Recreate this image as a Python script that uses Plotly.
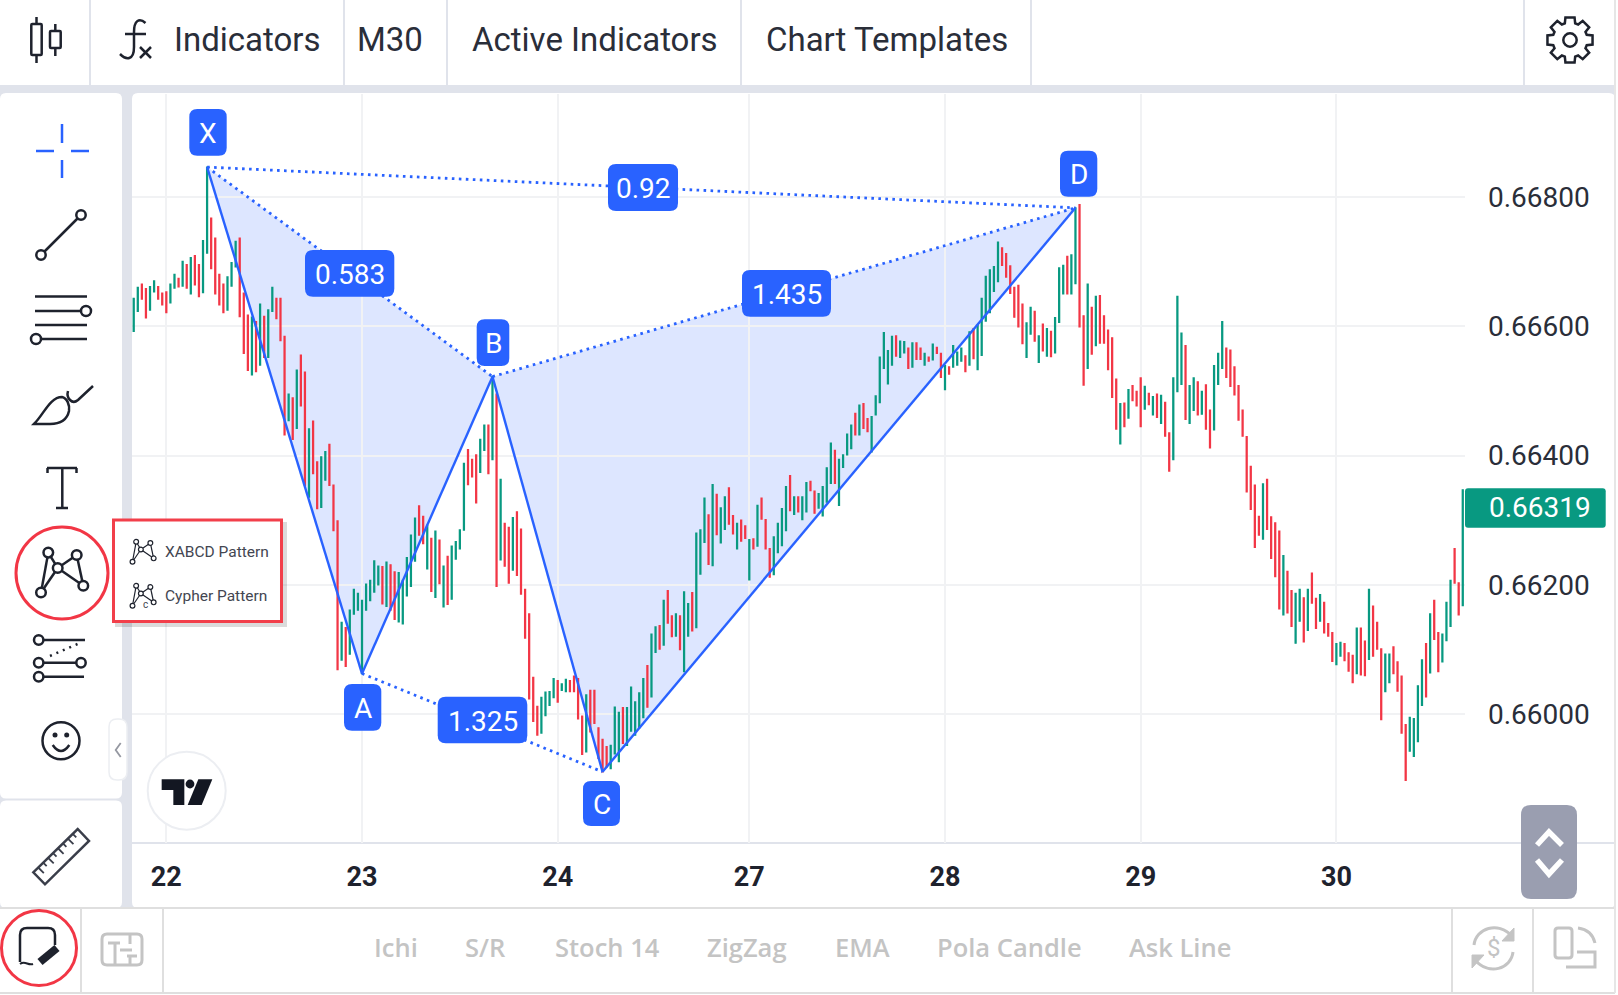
import math
import plotly.graph_objects as go

W, H = 1618, 995

# prices in 1e-5 units (M30)
bar_high = [
    66643, 66660, 66665, 66658, 66661, 66670, 66661, 66651, 66653, 66665, 66680, 66674, 66700, 66695, 66706, 66709,
    66695, 66732, 66846, 66767, 66736, 66680, 66665, 66676, 66698, 66731, 66736, 66651, 66617, 66614, 66607, 66634,
    66615, 66625, 66660, 66643, 66643, 66584, 66495, 66489, 66532, 66555, 66529, 66441, 66453, 66390, 66398, 66406,
    66417, 66354, 66299, 66142, 66134, 66161, 66193, 66187, 66176, 66201, 66207, 66237, 66229, 66228, 66235, 66231,
    66220, 66219, 66207, 66242, 66277, 66303, 66322, 66306, 66292, 66272, 66283, 66269, 66229, 66244, 66260, 66267,
    66285, 66388, 66409, 66394, 66401, 66425, 66447, 66447, 66522, 66495, 66363, 66295, 66289, 66304, 66313, 66286,
    66193, 66155, 66057, 66012, 66026, 66034, 66035, 66055, 66052, 66047, 66054, 66052, 66059, 66055, 65997, 66030,
    66037, 66037, 65979, 65961, 65950, 65952, 66011, 66003, 66010, 66010, 66042, 66019, 66033, 66055, 66075, 66124,
    66135, 66137, 66176, 66191, 66152, 66155, 66152, 66189, 66171, 66188, 66280, 66285, 66334, 66308, 66355, 66340,
    66319, 66336, 66350, 66307, 66295, 66300, 66291, 66270, 66271, 66323, 66334, 66301, 66256, 66274, 66295, 66318,
    66352, 66369, 66336, 66336, 66336, 66358, 66360, 66345, 66341, 66352, 66381, 66419, 66408, 66394, 66401, 66433,
    66447, 66465, 66478, 66480, 66457, 66460, 66492, 66552, 66590, 66562, 66584, 66585, 66577, 66576, 66566, 66574,
    66574, 66566, 66558, 66552, 66572, 66567, 66558, 66539, 66537, 66570, 66560, 66566, 66554, 66591, 66596, 66602,
    66643, 66677, 66687, 66692, 66730, 66721, 66712, 66693, 66660, 66663, 66634, 66605, 66629, 66623, 66585, 66603,
    66596, 66592, 66613, 66690, 66694, 66708, 66710, 66783, 66788, 66616, 66665, 66629, 66646, 66647, 66616, 66594,
    66582, 66518, 66480, 66481, 66502, 66508, 66499, 66520, 66507, 66496, 66491, 66495, 66493, 66482, 66435, 66520,
    66646, 66589, 66570, 66508, 66520, 66514, 66499, 66509, 66470, 66539, 66558, 66607, 66566, 66563, 66537, 66508,
    66470, 66429, 66383, 66354, 66306, 66356, 66363, 66305, 66296, 66283, 66245, 66221, 66191, 66187, 66193, 66180,
    66193, 66218, 66179, 66185, 66173, 66140, 66126, 66109, 66111, 66109, 66095, 66091, 66133, 66133, 66113, 66193,
    66167, 66142, 66101, 66093, 66093, 66104, 66081, 66059, 65984, 65995, 65993, 66044, 66084, 66109, 66155, 66176,
    66126, 66124, 66173, 66207, 66256, 66203, 66347,
]
bar_low = [
    66592, 66623, 66642, 66613, 66625, 66653, 66642, 66633, 66621, 66636, 66659, 66661, 66662, 66659, 66650, 66664,
    66646, 66652, 66713, 66689, 66650, 66633, 66621, 66625, 66662, 66692, 66615, 66558, 66532, 66525, 66530, 66540,
    66552, 66552, 66623, 66612, 66578, 66432, 66454, 66425, 66442, 66477, 66354, 66336, 66372, 66318, 66320, 66362,
    66354, 66284, 66069, 66084, 66074, 66093, 66155, 66161, 66063, 66161, 66176, 66189, 66200, 66171, 66167, 66161,
    66147, 66143, 66140, 66183, 66198, 66237, 66277, 66264, 66225, 66190, 66181, 66202, 66166, 66170, 66178, 66240,
    66256, 66285, 66355, 66367, 66327, 66374, 66408, 66372, 66394, 66198, 66239, 66229, 66203, 66223, 66215, 66186,
    66118, 66024, 65989, 65968, 65971, 65998, 66014, 66026, 66019, 66037, 66035, 66035, 66035, 65993, 65938, 65942,
    65973, 65986, 65932, 65911, 65919, 65916, 65939, 65927, 65955, 65952, 65974, 65968, 65979, 65995, 66011, 66027,
    66096, 66101, 66107, 66141, 66120, 66121, 66100, 66066, 66121, 66129, 66134, 66217, 66266, 66232, 66230, 66278,
    66265, 66286, 66294, 66279, 66256, 66268, 66272, 66208, 66256, 66260, 66302, 66256, 66212, 66216, 66250, 66261,
    66284, 66315, 66309, 66313, 66301, 66313, 66346, 66311, 66319, 66307, 66328, 66357, 66357, 66323, 66382, 66401,
    66411, 66432, 66432, 66442, 66437, 66406, 66463, 66482, 66535, 66511, 66540, 66554, 66552, 66559, 66535, 66537,
    66549, 66549, 66540, 66546, 66548, 66558, 66521, 66502, 66526, 66537, 66540, 66546, 66530, 66540, 66550, 66533,
    66555, 66608, 66621, 66654, 66669, 66694, 66676, 66651, 66614, 66599, 66573, 66552, 66588, 66577, 66544, 66562,
    66554, 66553, 66559, 66606, 66650, 66650, 66650, 66666, 66599, 66509, 66535, 66557, 66570, 66574, 66574, 66533,
    66490, 66441, 66418, 66445, 66458, 66485, 66477, 66445, 66472, 66479, 66463, 66459, 66450, 66430, 66376, 66394,
    66499, 66510, 66456, 66450, 66470, 66463, 66464, 66441, 66412, 66440, 66510, 66535, 66521, 66507, 66494, 66455,
    66430, 66344, 66317, 66258, 66277, 66271, 66286, 66241, 66213, 66163, 66154, 66157, 66136, 66110, 66144, 66112,
    66130, 66172, 66133, 66144, 66126, 66121, 66082, 66077, 66090, 66083, 66067, 66049, 66063, 66061, 66060, 66085,
    66090, 66101, 65992, 66035, 66049, 66063, 66036, 65971, 65898, 65943, 65935, 65958, 66014, 66027, 66064, 66116,
    66066, 66081, 66114, 66136, 66203, 66154, 66168,
]
# 1 = green bar, 0 = red bar
bar_up = [
    1, 1, 0, 0, 1, 1, 0, 0, 0, 1, 1, 0, 1, 0, 1, 0, 0, 1, 1, 0, 0, 0, 0, 1, 1, 1, 0, 0, 0, 1,
    0, 1, 0, 1, 1, 0, 0, 0, 1, 0, 1, 0, 0, 1, 0, 0, 1, 1, 0, 0, 0, 1, 0, 1, 1, 1, 1, 1, 1, 1,
    1, 0, 1, 0, 0, 1, 1, 1, 1, 1, 0, 0, 1, 0, 1, 0, 1, 0, 1, 1, 1, 1, 0, 0, 0, 1, 1, 0, 1, 0,
    1, 0, 0, 1, 0, 0, 0, 0, 0, 0, 1, 1, 1, 1, 0, 1, 1, 0, 0, 0, 0, 1, 0, 0, 0, 0, 0, 1, 1, 1,
    0, 1, 1, 1, 1, 1, 0, 1, 1, 0, 1, 0, 0, 1, 0, 1, 1, 0, 1, 1, 1, 0, 1, 0, 1, 1, 0, 0, 1, 0,
    0, 1, 0, 1, 0, 0, 0, 1, 1, 1, 1, 0, 1, 0, 1, 1, 0, 0, 1, 1, 1, 1, 0, 1, 1, 1, 1, 0, 1, 0,
    0, 1, 1, 1, 1, 1, 1, 0, 1, 1, 0, 1, 0, 0, 1, 0, 1, 0, 0, 1, 0, 1, 1, 1, 0, 1, 0, 1, 1, 1,
    1, 1, 1, 0, 0, 0, 0, 0, 0, 1, 1, 0, 1, 0, 1, 0, 1, 1, 1, 0, 1, 1, 0, 0, 1, 0, 1, 0, 0, 0,
    0, 0, 1, 0, 1, 0, 0, 0, 1, 0, 1, 0, 1, 0, 0, 1, 1, 1, 0, 1, 1, 0, 1, 0, 0, 1, 1, 1, 0, 0,
    0, 0, 0, 0, 0, 0, 0, 1, 0, 0, 0, 0, 1, 0, 0, 1, 1, 0, 1, 0, 0, 1, 0, 0, 0, 1, 1, 0, 0, 0,
    1, 0, 0, 1, 0, 0, 0, 1, 1, 0, 0, 0, 0, 1, 1, 1, 1, 0, 1, 0, 0, 1, 1, 1, 0, 0, 1,
]

day_bars = [8, 56, 104, 151, 199, 247, 295]
day_labels = ["22", "23", "24", "27", "28", "29", "30"]
price_ticks = [0.66, 0.662, 0.664, 0.666, 0.668]
last_price = 0.66319

# harmonic pattern pivots: X A B C D
pat_bar = [18, 56, 88, 115, 231]
pat_price = [0.66846, 0.66063, 0.66522, 0.65911, 0.66783]

top_tabs = ["Indicators", "M30", "Active Indicators", "Chart Templates"]
bottom_tabs = ["Ichi", "S/R", "Stoch 14", "ZigZag", "EMA", "Pola Candle", "Ask Line"]

BLUE = "#2962ff"
GREEN = "#089981"
RED = "#f23645"
INK = "#1e222d"
BAND = "#e0e3eb"
GREY = "#c4c4c4"

shapes = []
notes = []


# helpers, everything below in screen pixels
def pt(x, y):
    return f"{x / W:.5f},{1 - y / H:.5f}"


def poly(pts, closed=False):
    return "M" + " L".join(pt(x, y) for x, y in pts) + (" Z" if closed else "")


def rrect(x0, y0, x1, y1, r):
    return (f"M{pt(x0 + r, y0)} L{pt(x1 - r, y0)} Q{pt(x1, y0)} {pt(x1, y0 + r)} L{pt(x1, y1 - r)} "
            f"Q{pt(x1, y1)} {pt(x1 - r, y1)} L{pt(x0 + r, y1)} Q{pt(x0, y1)} {pt(x0, y1 - r)} "
            f"L{pt(x0, y0 + r)} Q{pt(x0, y0)} {pt(x0 + r, y0)} Z")


def path(d, color=INK, width=2.5, fill=None, layer="above", dash=None):
    shapes.append(dict(type="path", path=d, xref="paper", yref="paper", layer=layer,
                       line=dict(color=color, width=width, dash=dash), fillcolor=fill))


def solid(x0, y0, x1, y1, r, fill, layer="above"):
    shapes.append(dict(type="path", path=rrect(x0, y0, x1, y1, r), xref="paper", yref="paper",
                       layer=layer, line=dict(width=0), fillcolor=fill))


def seg(x0, y0, x1, y1, color=INK, width=2.5, layer="above", dash=None):
    path(poly([(x0, y0), (x1, y1)]), color, width, layer=layer, dash=dash)


def circle(cx, cy, r, color=INK, width=2.5, fill="white", layer="above"):
    shapes.append(dict(type="circle", xref="paper", yref="paper", layer=layer,
                       x0=(cx - r) / W, x1=(cx + r) / W, y0=1 - (cy + r) / H, y1=1 - (cy - r) / H,
                       line=dict(color=color, width=width), fillcolor=fill))


def text(s, x, y, size=28, color="#2a2e39", anchor="left", family="Roboto", weight=None):
    font = dict(family=family, size=size, color=color)
    if weight:
        font["weight"] = weight
    notes.append(dict(text=s, x=x / W, y=1 - y / H, xref="paper", yref="paper", showarrow=False,
                      xanchor=anchor, yanchor="middle", font=font))


def chip(x0, y0, x1, y1, s, size=28):
    solid(x0, y0, x1, y1, 8, BLUE)
    text(s, (x0 + x1) / 2, (y0 + y1) / 2 + 1, size, "white", "center")


def pattern_icon(cx, cy, k, width):
    nodes = [(-13.7, -20.4), (14.7, -18), (-4.3, -5), (-21, 19.5), (21.3, 12.7)]
    nodes = [(cx + a * k, cy + b * k) for a, b in nodes]
    for a, b in [(0, 3), (0, 2), (2, 3), (2, 1), (1, 4), (2, 4)]:
        seg(*nodes[a], *nodes[b], INK, width)
    for n in nodes:
        circle(n[0], n[1], 4.8 * k, INK, width)


# page frame
solid(0, 85, 1615, 908, 0, BAND, "below")
solid(0, 93, 122, 798.5, 6, "white", "below")
solid(0, 800.5, 122, 908, 6, "white", "below")
solid(132, 93, 1615, 908, 6, "white", "below")
seg(132, 843, 1615, 843, BAND, 2, "below")
seg(0, 908, 1615, 908, "#dfdfdf", 2, "below")
seg(0, 993, 1615, 993, "#dfdfdf", 2, "below")
for vx in [90, 344, 447, 741, 1031, 1524]:
    seg(vx, 0, vx, 85, BAND, 2, "below")
for vx in [81, 163, 1452, 1533]:
    seg(vx, 908, vx, 993, "#dfdfdf", 2, "below")
seg(1615, 0, 1615, 993, "#e6e6e6", 2, "below")

# top bar
for tab, tx in zip(top_tabs, [172, 355, 470, 764]):
    text(tab, tx, 40, 33)
path(rrect(31.3, 24, 41.7, 55, 1), width=2.5)
seg(36.5, 17, 36.5, 24)
seg(36.5, 55, 36.5, 63)
path(rrect(50, 31, 60.7, 48, 1), width=2.5)
seg(55.3, 24, 55.3, 31)
seg(55.3, 48, 55.3, 56)
path(f"M{pt(145.5, 23)} C{pt(139, 17)} {pt(134, 21)} {pt(134, 32)} L{pt(134, 47)} "
     f"C{pt(134, 61)} {pt(126, 60)} {pt(120, 54)}", width=2.5)
seg(125, 34, 146, 34)
seg(140, 47, 151, 58)
seg(151, 47, 140, 58)
gear = []
for k in range(8):
    a = k * math.pi / 4 - math.pi / 2
    for da, r in [(-0.3, 17.5), (-0.2, 23), (0.2, 23), (0.3, 17.5)]:
        gear.append((1570 + r * math.cos(a + da), 40 + r * math.sin(a + da)))
path(poly(gear, True), width=2.5)
circle(1570, 40, 6.7)

# left tool column
for x0, y0, x1, y1 in [(62, 124, 62, 143), (62, 160, 62, 178), (36, 151, 54, 151), (71, 151, 89, 151)]:
    seg(x0, y0, x1, y1, BLUE, 2.5)
seg(41, 255, 81, 215)
circle(41, 255, 4.7)
circle(81, 215, 4.7)
seg(35, 296.5, 87, 296.5)
seg(35, 311, 82, 311)
seg(35, 325, 87, 325)
seg(41, 339, 87, 339)
circle(86, 311, 5)
circle(36, 339, 5)
path(f"M{pt(34, 424)} C{pt(44, 414)} {pt(50, 397)} {pt(62, 397)} C{pt(67, 398)} {pt(70, 405)} {pt(69, 411)} "
     f"C{pt(67, 420)} {pt(60, 424)} {pt(50, 424)} Z")
path(f"M{pt(68, 391)} C{pt(66, 398)} {pt(72, 405)} {pt(78, 400)} L{pt(93, 386)}")
seg(47, 468, 77, 468)
seg(47.5, 468, 47.5, 473)
seg(76.5, 468, 76.5, 473)
seg(62.3, 468, 62.3, 508)
seg(56, 508, 68, 508)
circle(62, 573, 46, RED, 3, None)
pattern_icon(62, 573, 1, 2.5)
seg(50, 656, 82, 642, INK, 2.5, dash="2px,5px")
seg(38.7, 640, 85, 640)
seg(38.7, 662.7, 81, 662.7)
seg(38.7, 676.7, 84, 676.7)
for ix, iy in [(38.7, 640), (38.7, 662.7), (81, 662.7), (38.7, 676.7)]:
    circle(ix, iy, 4.7)
circle(61, 740.7, 18.5)
circle(55, 735, 2.5, INK, 0, INK)
circle(66.7, 735, 2.5, INK, 0, INK)
path(f"M{pt(52.7, 745)} Q{pt(61, 757)} {pt(69.3, 745)}")
path(poly([(33.3, 872.3), (77.7, 829), (89, 841), (45, 884.3)], True), "#3a3e4a", 2.5)
for k in range(1, 9):
    sx, sy = 33.3 + 44.4 * k / 9, 872.3 - 43.3 * k / 9
    tick = 8 if k % 2 else 5
    seg(sx, sy, sx + tick * 0.7, sy + tick * 0.7, "#3a3e4a", 1.8)
path(rrect(109, 719, 127, 780, 8), "#eceef2", 1.5, "white")
path(poly([(120.7, 743), (115.7, 750), (120.7, 757)]), "#9598a1", 1.8)

# pop-up menu
solid(115, 522, 287, 627, 0, "rgba(0,0,0,0.14)")
path(poly([(113.5, 520), (281.5, 520), (281.5, 621.5), (113.5, 621.5)], True), "#f23f4a", 3, "white")
pattern_icon(143, 552, 0.5, 1.2)
pattern_icon(143, 596, 0.5, 1.2)
text("c", 145, 604, 10, "#434651", "center")
text("XABCD Pattern", 162.5, 552, 15.5, "#434651")
text("Cypher Pattern", 162.5, 596, 15.5, "#434651")

# bottom bar
for tab, tx in zip(bottom_tabs, [396, 485, 607, 747, 863, 1009, 1180]):
    text(tab, tx, 947, 25.5, GREY, "center", "Open Sans", 600)
circle(39, 948, 37.5, RED, 3, None)
path(f"M{pt(20, 962)} L{pt(20, 935)} Q{pt(20, 928)} {pt(27, 928)} L{pt(48, 928)} Q{pt(55, 928)} {pt(55, 935)} L{pt(55, 945)}",
     INK, 2.5)
path(f"M{pt(20, 964)} C{pt(25, 960)} {pt(28, 966)} {pt(33, 964)}", INK, 2)
seg(40, 962, 57, 948, INK, 8)
path(rrect(102, 934, 142, 965, 5), GREY, 3)
seg(115, 944, 115, 965, GREY, 3)
seg(130, 934, 130, 944, GREY, 3)
seg(130, 957, 130, 965, GREY, 3)
seg(108, 943, 120, 943, GREY, 3)
seg(120, 950, 132, 950, GREY, 3)
seg(127, 956, 137, 956, GREY, 3)
path(f"M{pt(1474, 945)} C{pt(1476, 928)} {pt(1498, 921)} {pt(1512, 936)}", GREY, 3)
path(f"M{pt(1513, 952)} C{pt(1511, 969)} {pt(1489, 976)} {pt(1475, 960)}", GREY, 3)
path(poly([(1514, 928), (1514, 941), (1502, 941)], True), GREY, 1, GREY)
path(poly([(1472, 968), (1472, 955), (1484, 955)], True), GREY, 1, GREY)
text("$", 1493.5, 948, 24, GREY, "center")
path(rrect(1555, 928, 1572, 958, 3), GREY, 3)
path(f"M{pt(1578, 928)} Q{pt(1592, 930)} {pt(1595, 943)}", GREY, 3)
path(poly([(1577, 952), (1595, 952), (1595, 967), (1566, 967)]), GREY, 3)

# scroll button
solid(1521, 805, 1577, 899, 10, "#9a9eb0")
path(poly([(1537, 845), (1549, 832), (1562, 845)]), "white", 5.5)
path(poly([(1537, 860), (1549, 874), (1562, 860)]), "white", 5.5)

# pattern fill sits under the bars
for a, b, c in [(0, 1, 2), (2, 3, 4)]:
    shapes.append(dict(
        type="path", xref="x", yref="y", layer="below", line=dict(width=0),
        fillcolor="rgba(41,98,255,0.16)",
        path=f"M{pat_bar[a]},{pat_price[a]} L{pat_bar[b]},{pat_price[b]} L{pat_bar[c]},{pat_price[c]} Z"))

# labels on the pattern
chip(189.3, 109, 226.7, 155.7, "X")
chip(344, 684, 381.3, 730.7, "A")
chip(476.7, 319.3, 509.3, 366, "B")
chip(583, 781, 620, 826, "C")
chip(1060, 150.7, 1097.3, 196.7, "D")
chip(608, 164, 678, 211, "0.92")
chip(305, 250, 394.3, 296.7, "0.583")
chip(742, 270, 831, 316.7, "1.435")
chip(437.7, 696.7, 527.3, 743.3, "1.325")

# logo badge
circle(186.7, 790.7, 39, "#eceef2", 2)
logo = lambda z: [(a / 3, 640 + b / 3) for a, b in z]
path(poly(logo([(485, 418), (553, 418), (553, 495), (520, 495), (520, 450), (485, 450)]), True), "#131722", 0, "#131722")
path(poly(logo([(595, 418), (637, 418), (605, 495), (563, 495)]), True), "#131722", 0, "#131722")
circle(190, 784, 4.4, "#131722", 0, "#131722")

# last price tag
solid(1465, 488.3, 1605.7, 527.7, 3, GREEN)
notes.append(dict(text=f"{last_price:.5f}", x=1487 / W, y=last_price, xref="paper", yref="y", showarrow=False,
                  xanchor="left", yanchor="middle", font=dict(family="Roboto", size=28, color="white")))

bars = list(range(len(bar_high)))
opens = [(lo if up else hi) / 1e5 for lo, hi, up in zip(bar_low, bar_high, bar_up)]
closes = [(hi if up else lo) / 1e5 for lo, hi, up in zip(bar_low, bar_high, bar_up)]

fig = go.Figure()
fig.add_trace(go.Candlestick(
    x=bars, open=opens, close=closes,
    high=[v / 1e5 for v in bar_high], low=[v / 1e5 for v in bar_low],
    increasing=dict(line=dict(color=GREEN, width=1.4), fillcolor=GREEN),
    decreasing=dict(line=dict(color=RED, width=1.4), fillcolor=RED),
    whiskerwidth=0, hoverinfo="skip", showlegend=False))

for a, b in [(0, 1), (1, 2), (2, 3), (3, 4)]:
    fig.add_trace(go.Scatter(x=[pat_bar[a], pat_bar[b]], y=[pat_price[a], pat_price[b]], mode="lines",
                             line=dict(color=BLUE, width=2.4), hoverinfo="skip", showlegend=False))
for a, b in [(0, 2), (1, 3), (2, 4), (0, 4)]:
    fig.add_trace(go.Scatter(x=[pat_bar[a], pat_bar[b]], y=[pat_price[a], pat_price[b]], mode="lines",
                             line=dict(color=BLUE, width=2.8, dash="2.6px,4.4px"), hoverinfo="skip", showlegend=False))

fig.update_layout(
    width=W, height=H, margin=dict(l=0, r=0, t=0, b=0, pad=0),
    paper_bgcolor="white", plot_bgcolor="rgba(0,0,0,0)", showlegend=False, boxgap=0.7,
    shapes=shapes, annotations=notes,
    xaxis=dict(domain=[132 / W, 1465 / W], range=[-0.42, 326.55], rangeslider=dict(visible=False),
               tickmode="array", tickvals=day_bars, ticktext=day_labels, ticks="", ticklabelstandoff=15,
               tickfont=dict(family="Roboto", size=27, color=INK, weight=700),
               showgrid=True, gridcolor="#f1f2f4", gridwidth=2, zeroline=False, showline=False, fixedrange=True),
    yaxis=dict(domain=[1 - 843 / H, 1 - 94 / H], range=[0.65801, 0.66959], side="right",
               tickmode="array", tickvals=price_ticks, tickformat=".5f", ticks="", ticklabelstandoff=22,
               tickfont=dict(family="Roboto", size=28, color="#2a2e39"),
               showgrid=True, gridcolor="#f1f2f4", gridwidth=2, zeroline=False, showline=False, fixedrange=True),
)

fig.write_html("out.html", config={"displayModeBar": False},
               post_script="document.body.style.margin='0';document.documentElement.style.overflow='hidden';")
